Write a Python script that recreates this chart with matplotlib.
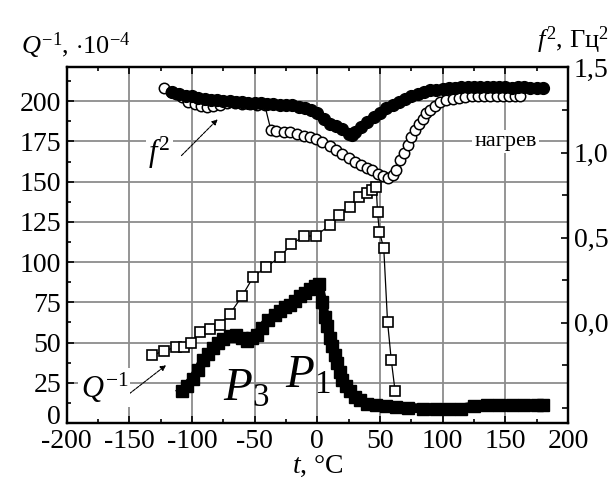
import numpy as np
import matplotlib
matplotlib.use('Agg')
import matplotlib.pyplot as plt
import matplotlib.transforms as mtransforms
from matplotlib.ticker import MultipleLocator, FixedLocator, FixedFormatter

plt.rcParams['font.family'] = ['Liberation Serif', 'DejaVu Serif']
plt.rcParams['mathtext.fontset'] = 'custom'
plt.rcParams['mathtext.rm'] = 'Liberation Serif'
plt.rcParams['mathtext.it'] = 'Liberation Serif:italic'
plt.rcParams['axes.unicode_minus'] = False

# f^2, heating (filled circles), right axis
t_f_fill = [-116, -110, -105, -100, -95, -90, -85, -80, -75, -70, -65, -60, -55, -50,
            -45, -40, -35, -30, -25, -20, -15, -10, -5, 0, 5, 10, 15, 20, 25, 28,
            30, 35, 40, 45, 50, 55, 60, 65, 70, 75, 80, 85, 90, 95, 100, 105, 110,
            115, 120, 125, 130, 135, 140, 145, 150, 155, 160, 165, 170, 175, 180]
f_fill = [1.355, 1.345, 1.335, 1.33, 1.32, 1.315, 1.31, 1.31, 1.305, 1.305, 1.30, 1.295,
          1.29, 1.29, 1.29, 1.285, 1.285, 1.28, 1.28, 1.28, 1.27, 1.26, 1.25, 1.23, 1.20,
          1.17, 1.155, 1.14, 1.11, 1.105, 1.12, 1.15, 1.18, 1.21, 1.235, 1.26, 1.28, 1.30,
          1.315, 1.33, 1.345, 1.355, 1.365, 1.37, 1.375, 1.38, 1.38, 1.385, 1.385, 1.385,
          1.385, 1.385, 1.385, 1.385, 1.385, 1.38, 1.385, 1.385, 1.38, 1.38, 1.38]

# f^2, open circles, right axis
t_f_open = [-122, -117, -113, -108, -103, -98, -93, -88, -83, -78, -72, -66, -60, -54,
            -48, -42, -37, -33, -27, -22, -16, -11, -6, -1, 4, 10, 15, 20, 25, 30, 35,
            40, 44, 48, 52, 56, 60, 63, 66, 69, 72, 75, 78, 81, 84, 87, 90, 94, 98,
            103, 108, 113, 118, 123, 128, 133, 138, 143, 148, 153, 158, 162]
f_open = [1.38, 1.355, 1.345, 1.325, 1.30, 1.285, 1.275, 1.27, 1.275, 1.28, 1.29, 1.29,
          1.285, 1.285, 1.28, 1.28, 1.13, 1.125, 1.12, 1.118, 1.11, 1.098, 1.09, 1.079,
          1.06, 1.04, 1.015, 0.99, 0.97, 0.945, 0.925, 0.91, 0.895, 0.875, 0.86, 0.853,
          0.87, 0.90, 0.955, 1.00, 1.045, 1.09, 1.13, 1.165, 1.20, 1.23, 1.25, 1.275,
          1.295, 1.31, 1.315, 1.32, 1.325, 1.33, 1.33, 1.33, 1.33, 1.33, 1.33, 1.33,
          1.33, 1.33]

# Q^-1, open squares, left axis
t_q_open = [-132, -122, -113, -106, -101, -94, -86, -78, -70, -60, -51, -41, -30, -21,
            -11, -1, 10, 17, 26, 33, 40, 44, 47, 48, 49.5, 53, 56, 59, 62]
q_open = [42, 45, 47, 47.5, 49.5, 56.5, 58.5, 61, 67.5, 79, 91, 97, 103, 111, 116,
          116.5, 123, 129, 134, 140.5, 143, 145, 147, 131, 119, 108.5, 63, 39, 20]

# Q^-1, filled squares, left axis
t_q_fill = [-108, -104, -99, -95, -91, -87, -83, -79, -75, -70, -65, -60, -56, -52, -48,
            -44, -39, -34, -30, -26, -22, -18, -14, -10, -6, -2, 1, 4, 6, 8, 10, 12, 14,
            16, 18, 20, 23, 26, 30, 34, 40, 47, 55, 63, 72, 84, 95, 105, 115, 125, 135,
            145, 155, 165, 175, 180]
q_fill = [20, 23, 27.5, 33, 39, 43, 46.5, 50, 52.5, 54, 54.5, 53, 51, 53, 55, 59, 64, 67,
          69.5, 72, 73.5, 76, 79, 81, 83, 85, 86.5, 75, 66, 60, 53, 48, 42, 37, 32, 27,
          23, 20, 16, 14, 12, 11, 10.5, 10, 9.5, 9, 8.5, 8.5, 9, 10.5, 11, 11, 11, 11,
          11, 11]

fig = plt.figure(figsize=(6.14, 4.79), dpi=100)
ax = fig.add_axes([0.1086, 0.1169, 0.8165, 0.7422])
ax2 = ax.twinx()

grid_col = '#8c8c8c'
ax.set_axisbelow(True)
ax.grid(True, color=grid_col, lw=1.3)

ax.plot(t_q_open, q_open, color='black', lw=0.9, marker='s', ms=7.5, mfc='white',
        mec='black', mew=1.2, zorder=3)
ax.plot(t_q_fill, q_fill, color='black', lw=7, marker='s', ms=9, mfc='black',
        mec='black', zorder=4)

ax2.plot(t_f_open, f_open, color='black', lw=0.9, marker='o', ms=7.5, mfc='white',
         mec='black', mew=1.1, zorder=3)
ax2.plot(t_f_fill, f_fill, color='black', lw=6, marker='o', ms=8.5, mfc='black',
         mec='black', ls='-', zorder=4)

ax.set_xlim(-200, 200)
ax.set_ylim(0, 221)
ax2.set_ylim(-0.59, 1.5)

ax.xaxis.set_major_locator(MultipleLocator(50))
ax.xaxis.set_minor_locator(MultipleLocator(25))
ax.yaxis.set_major_locator(MultipleLocator(25))
ax.yaxis.set_minor_locator(MultipleLocator(12.5))
ax.tick_params(which='both', direction='in', top=True, labelsize=20, width=1.2)
ax.tick_params(which='major', length=5, pad=4)
ax.tick_params(which='minor', length=3)

ax2.yaxis.set_major_locator(FixedLocator([0.0, 0.5, 1.0, 1.5]))
ax2.yaxis.set_major_formatter(FixedFormatter(['0,0', '0,5', '1,0', '1,5']))
ax2.yaxis.set_minor_locator(FixedLocator([-0.5, -0.25, 0.25, 0.75, 1.25]))
ax2.tick_params(which='both', direction='in', labelsize=20, width=1.2, pad=4)
ax2.tick_params(which='major', length=5)
ax2.tick_params(which='minor', length=4)

for sp in ax.spines.values():
    sp.set_linewidth(1.6)
for sp in ax2.spines.values():
    sp.set_linewidth(1.6)

# lift the "0" label a little so it clears the "-200" below it
fig.canvas.draw()
for tick in ax.yaxis.get_major_ticks():
    if abs(tick.get_loc()) < 1e-9:
        lab = tick.label1
        lab.set_transform(lab.get_transform() +
                          mtransforms.ScaledTranslation(0, 9 / 100, fig.dpi_scale_trans))

ax.set_xlabel(r'$t$, °C', fontsize=20, labelpad=0)

# axis captions above the frame
fig.text(0.035, 0.905, r'$Q^{\mathrm{-1}}$, $\cdot$10$^{\mathrm{-4}}$', fontsize=19,
         ha='left', va='center')
fig.text(0.875, 0.915, r'$f^{2}$, Гц$^{2}$', fontsize=19, ha='left', va='center')

white = dict(facecolor='white', edgecolor='none', pad=1.5)
ax.text(150, 175, 'нагрев', fontsize=16, ha='center', va='center', bbox=white, zorder=5)
ax.text(-126, 168, r'$f^{2}$', fontsize=22, ha='center', va='center', bbox=white, zorder=5)
ax.text(-170, 22, r'$Q^{\mathrm{-1}}$', fontsize=22, ha='center', va='center', bbox=white,
        zorder=5)

ax.annotate('', xy=(-78, 190), xytext=(-110, 165),
            arrowprops=dict(arrowstyle='-|>', color='black', lw=0.8, ls=(0, (3, 1)),
                            mutation_scale=8))
ax.annotate('', xy=(-119, 37), xytext=(-152, 17),
            arrowprops=dict(arrowstyle='-|>', color='black', lw=0.8, ls=(0, (3, 1)),
                            mutation_scale=8))

ax.text(-75, 14, r'$P_{3}$', fontsize=34, ha='left', va='baseline', zorder=6)
ax.text(-26, 22, r'$P_{1}$', fontsize=34, ha='left', va='baseline', zorder=6)

fig.savefig('out.png', dpi=100)
